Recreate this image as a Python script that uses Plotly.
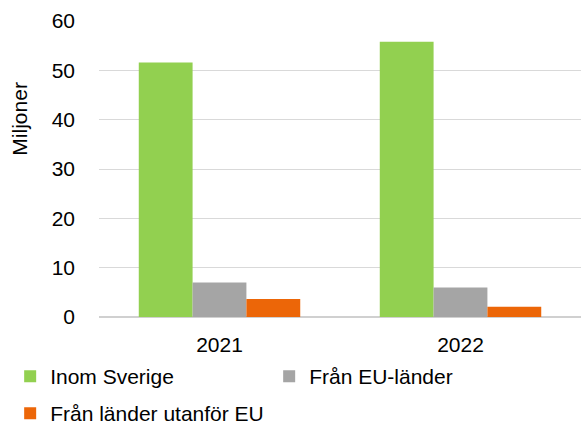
import plotly.graph_objects as go

years = ["2021", "2022"]
inom_sverige = [51.6, 55.8]
fran_eu = [7.0, 6.0]
utanfor_eu = [3.65, 2.1]

series = [
    ("Inom Sverige", inom_sverige, "#92d050", "legend"),
    ("Från EU-länder", fran_eu, "#a5a5a5", "legend"),
    ("Från länder utanför EU", utanfor_eu, "#ec6608", "legend2"),
]

fig = go.Figure()
for name, vals, color, leg in series:
    fig.add_trace(go.Bar(x=years, y=vals, name=name, legend=leg,
                         marker=dict(color=color, line=dict(width=0))))

font = "Liberation Sans, Arial, sans-serif"
leg_common = dict(
    orientation="h", xanchor="left", yanchor="top",
    entrywidth=214, entrywidthmode="pixels",
    font=dict(size=21), itemwidth=30, traceorder="normal",
    bgcolor="rgba(0,0,0,0)",
)
fig.update_layout(
    width=581, height=425,
    margin=dict(l=99, r=0, t=21, b=108, autoexpand=False),
    paper_bgcolor="white", plot_bgcolor="white",
    font=dict(family=font, size=21, color="black"),
    barmode="group", bargap=0.33, bargroupgap=0,
    showlegend=True,
    legend=dict(x=-0.1843, y=-0.1318, **leg_common),
    legend2=dict(x=-0.1843, y=-0.2568, **leg_common),
    xaxis=dict(showgrid=False, ticks="", showline=False, tickfont=dict(size=21),
               ticklabelstandoff=13),
    yaxis=dict(
        range=[0, 60], dtick=10, showgrid=True, gridcolor="#d9d9d9", gridwidth=1.3,
        zeroline=True, zerolinecolor="#d0d0d0", zerolinewidth=2,
        showline=False, ticks="", ticklen=0, ticklabelstandoff=23,
        tickfont=dict(size=21),
    ),
    annotations=[dict(
        text="Miljoner", textangle=-90, showarrow=False,
        xref="paper", yref="paper", x=-0.164, y=0.67,
        xanchor="center", yanchor="middle", font=dict(size=21),
    )],
)

fig.write_html("out.html", config={"displayModeBar": False},
               post_script="document.body.style.margin='0';document.body.style.overflow='hidden';")
